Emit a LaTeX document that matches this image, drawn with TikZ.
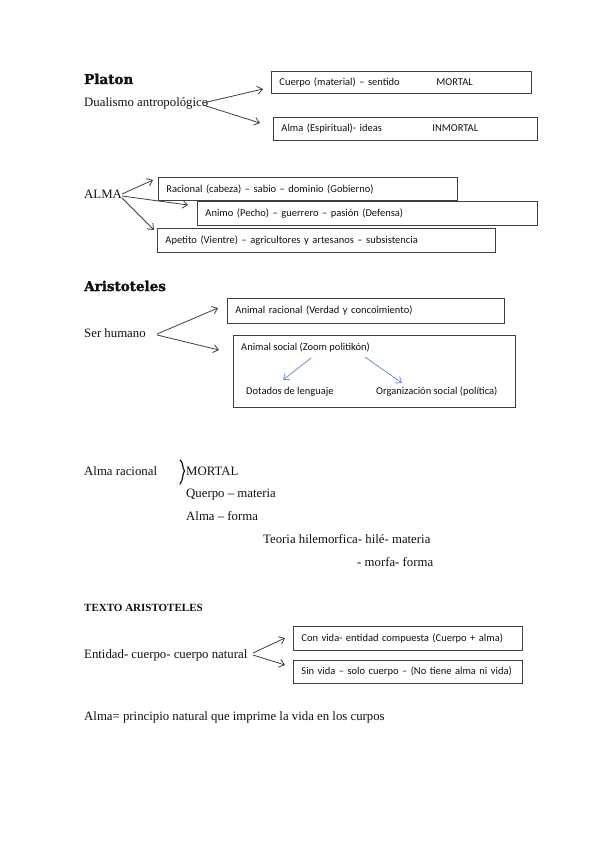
\documentclass[tikz,border=0pt]{standalone}
\usepackage{fontspec}
\setmainfont{Liberation Serif}
\newfontfamily\boxfont{Carlito}
\newfontfamily\headfont{DejaVu Serif}[BoldFont={DejaVu Serif Bold}, BoldFeatures={FakeBold=1.6}]
\usetikzlibrary{arrows.meta}
\definecolor{boxgray}{HTML}{404040}
\definecolor{arrgray}{HTML}{404040}
\definecolor{bluearr}{HTML}{7C9AD4}
\definecolor{inkc}{HTML}{111111}
\begin{document}
\begin{tikzpicture}[x=1pt,y=-1pt,
  txt/.style={anchor=base west, inner sep=0pt, text=inkc, font=\fontsize{12.8}{14}\selectfont},
  hd/.style={anchor=base west, inner sep=0pt, text=inkc, font=\headfont\bfseries\fontsize{13.5}{16}\selectfont},
  btxt/.style={anchor=base west, inner sep=0pt, text=inkc, font=\boxfont\fontsize{10.5}{12}\selectfont},
  bx/.style={draw=boxgray, line width=0.9pt, anchor=north west, inner xsep=8pt, inner ysep=0pt, align=left, text=inkc, font=\boxfont\fontsize{10.5}{12}\selectfont},
  arr/.style={draw=arrgray, line width=0.8pt, -{Straight Barb[length=5pt,width=8pt]}},
  barr/.style={draw=bluearr, line width=0.9pt, -{Straight Barb[length=5pt,width=8pt]}}]
\useasboundingbox (0,0) rectangle (599,848);
\fill[white] (0,0) rectangle (599,848);

% ---------- Platon ----------
\node[hd] (platon) at (84,84) {Platon};
\node[txt] (dual) at (84,107) {Dualismo antropológico};
\node[bx, minimum width=260pt, minimum height=22pt, text width=244pt] (cuerpo) at (271,71)
  {\makebox[157pt][l]{Cuerpo (material) – sentido}MORTAL};
\node[bx, minimum width=264pt, minimum height=23pt, text width=248pt] (almaesp) at (273,117)
  {\makebox[151pt][l]{Alma (Espiritual)- ideas}INMORTAL};
\coordinate (d1) at (203,103); \coordinate (d1e) at (263,89);
\coordinate (d2) at (203,105); \coordinate (d2e) at (260,123);
\draw[arr] (d1) -- (d1e);
\draw[arr] (d2) -- (d2e);

% ---------- ALMA ----------
\node[txt] (alma) at (84,198) {ALMA};
\node[bx, minimum width=299pt, minimum height=23pt, text width=283pt] (racional) at (158,177)
  {Racional (cabeza) – sabio – dominio (Gobierno)};
\node[bx, minimum width=340pt, minimum height=24pt, text width=324pt] (animo) at (197,201)
  {Animo (Pecho) – guerrero – pasión (Defensa)};
\node[bx, minimum width=338pt, minimum height=24pt, text width=322pt] (apetito) at (157,228)
  {Apetito (Vientre) – agricultores y artesanos – subsistencia};
\coordinate (a1) at (122,194); \coordinate (a1e) at (153,180);
\coordinate (a2) at (122,196); \coordinate (a2e) at (188,205);
\coordinate (a3) at (122,198); \coordinate (a3e) at (154,230);
\draw[arr] (a1) -- (a1e);
\draw[arr] (a2) -- (a2e);
\draw[arr] (a3) -- (a3e);

% ---------- Aristoteles ----------
\node[hd] (arist) at (84,291) {Aristoteles};
\node[txt] (ser) at (84,337) {Ser humano};
\node[bx, minimum width=277pt, minimum height=25pt, text width=261pt] (anrac) at (227,298)
  {Animal racional (Verdad y concoimiento)};
\node[draw=boxgray, line width=0.9pt, anchor=north west, minimum width=282pt, minimum height=72pt, inner sep=0pt] (ansoc) at (233,335) {};
\node[btxt] (ansoct) at (241,350) {Animal social (Zoom politikón)};
\node[btxt] (dotados) at (246,394) {Dotados de lenguaje};
\node[btxt] (org) at (376,394) {Organización social (política)};
\coordinate (s1) at (157,334); \coordinate (s1e) at (218,308);
\coordinate (s2) at (157,335); \coordinate (s2e) at (219,350);
\draw[arr] (s1) -- (s1e);
\draw[arr] (s2) -- (s2e);
\coordinate (b1) at (311,358); \coordinate (b1e) at (283,380);
\coordinate (b2) at (365,357); \coordinate (b2e) at (402,383);
\draw[barr] (b1) -- (b1e);
\draw[barr] (b2) -- (b2e);

% ---------- Alma racional ----------
\node[txt] (almarac) at (84,475) {Alma racional};
\draw[inkc, line width=1.2pt, line cap=round] (180,460) .. controls (183.5,462) and (182,468) .. (184.5,471)
  .. controls (182,474) and (183.5,480) .. (180,484);
\node[txt] (mortal) at (186,475) {MORTAL};
\node[txt] (querpo) at (186,497) {Querpo – materia};
\node[txt] (almaforma) at (186,520) {Alma – forma};
\node[txt] (teoria) at (263,543) {Teoria hilemorfica- hilé- materia};
\node[txt] (morfa) at (357,566) {- morfa- forma};

% ---------- Texto Aristoteles ----------
\node[anchor=base west, inner sep=0pt, text=inkc, font=\bfseries\fontsize{11}{13}\selectfont] (texto) at (84,611) {TEXTO ARISTOTELES};
\node[txt] (entidad) at (84,658) {Entidad- cuerpo- cuerpo natural};
\node[bx, minimum width=229pt, minimum height=24pt, text width=213pt] (convida) at (293,626)
  {Con vida- entidad compuesta (Cuerpo + alma)};
\node[bx, minimum width=229pt, minimum height=23pt, text width=213pt] (sinvida) at (293,660)
  {Sin vida – solo cuerpo – (No tiene alma ni vida)};
\coordinate (e1) at (253,653); \coordinate (e1e) at (285,638);
\coordinate (e2) at (253,655); \coordinate (e2e) at (285,665);
\draw[arr] (e1) -- (e1e);
\draw[arr] (e2) -- (e2e);

\node[txt] (almadef) at (84,720) {Alma= principio natural que imprime la vida en los curpos};
\end{tikzpicture}
\end{document}
